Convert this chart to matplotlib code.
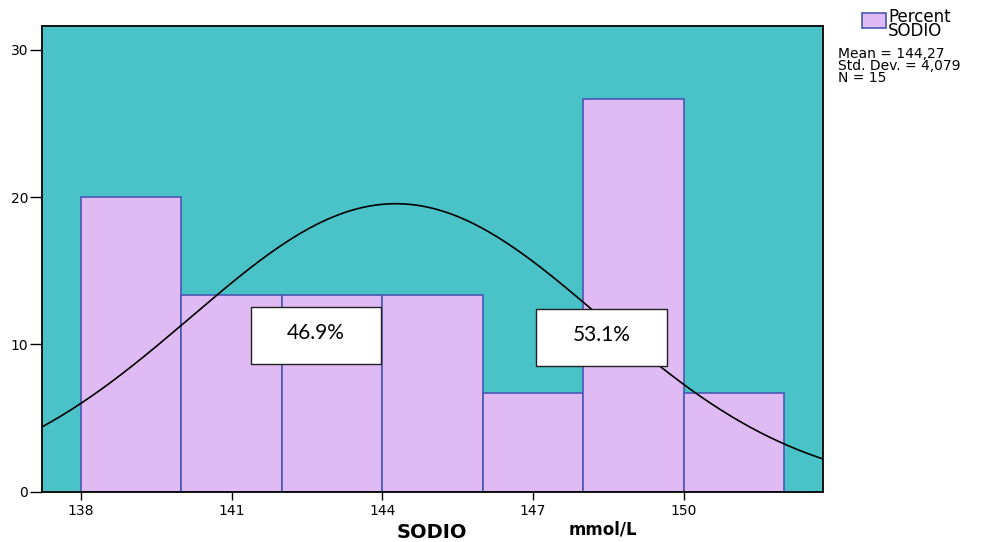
import numpy as np
import matplotlib
matplotlib.use("Agg")
import matplotlib.pyplot as plt
from matplotlib.patches import Rectangle

# Histogram of SODIO (mmol/L), percent per bin
bin_edges = [138, 140, 142, 144, 146, 148, 150, 152]
percent = [20.0, 13.33, 13.33, 13.33, 6.67, 26.67, 6.67]
mean_val = 144.27
std_val = 4.079
n_val = 15
x_ticks = [138, 141, 144, 147, 150]
y_ticks = [0, 10, 20, 30]
box_labels = ['46.9%', '53.1%']
box_centers = [(142.68, 10.6), (148.37, 10.48)]

bg = '#49C3C7'
bar_fill = '#DFBAF3'
bar_edge = '#4A58B6'

W, H = 985, 542
fig = plt.figure(figsize=(W / 100, H / 100), dpi=100)
ax = fig.add_axes([42 / W, 1 - 491.7 / H, (822.7 - 42) / W, (491.7 - 26) / H])
ax.set_facecolor(bg)

widths = np.diff(bin_edges)
ax.bar(bin_edges[:-1], percent, width=widths, align='edge',
       color=bar_fill, edgecolor=bar_edge, linewidth=1.2, zorder=2)

# normal curve scaled to percent per bin
xs = np.linspace(137.224, 152.77, 400)
bw = bin_edges[1] - bin_edges[0]
ys = 100 * bw / (std_val * np.sqrt(2 * np.pi)) * np.exp(-0.5 * ((xs - mean_val) / std_val) ** 2)
ax.plot(xs, ys, color='black', linewidth=1.2, zorder=3)

ax.set_xlim(137.224, 152.77)
ax.set_ylim(0, 31.63)
ax.set_xticks(x_ticks)
ax.set_yticks(y_ticks)
ax.tick_params(axis='y', direction='out', length=9, width=1.0, labelsize=10, pad=1)
ax.tick_params(axis='x', direction='out', length=6, width=1.0, labelsize=10, pad=3)
for sp in ax.spines.values():
    sp.set_color('black')
    sp.set_linewidth(1.3)

# percentage boxes
bw_box, bh_box = 2.6, 3.88
for txt, (cx, cy) in zip(box_labels, box_centers):
    ax.add_patch(Rectangle((cx - bw_box / 2, cy - bh_box / 2), bw_box, bh_box,
                           facecolor='white', edgecolor='#222222', linewidth=1.0, zorder=4))
    ax.text(cx, cy + 0.15, txt, ha='center', va='center', fontsize=15,
            family='Lato', zorder=5)

# axis titles
fig.text(432 / W, 1 - 533 / H, 'SODIO', ha='center', va='center', fontsize=14,
         fontweight='bold')
fig.text(603 / W, 1 - 530 / H, 'mmol/L', ha='center', va='center', fontsize=12,
         fontweight='bold')

# legend and statistics
fig.patches.append(Rectangle((862 / W, 1 - 28 / H), 24 / W, 15 / H, transform=fig.transFigure,
                             facecolor=bar_fill, edgecolor=bar_edge, linewidth=1.2))
fig.text(888 / W, 1 - 24 / H, 'Percent\nSODIO', ha='left', va='center', fontsize=12,
         linespacing=0.78)
stats = ['Mean = %s' % f'{mean_val:.2f}'.replace('.', ','),
         'Std. Dev. = %s' % f'{std_val:.3f}'.replace('.', ','),
         'N = %d' % n_val]
fig.text(838 / W, 1 - 66 / H, '\n'.join(stats), ha='left', va='center', fontsize=10,
         linespacing=0.78)

fig.savefig('out.png', dpi=100)
